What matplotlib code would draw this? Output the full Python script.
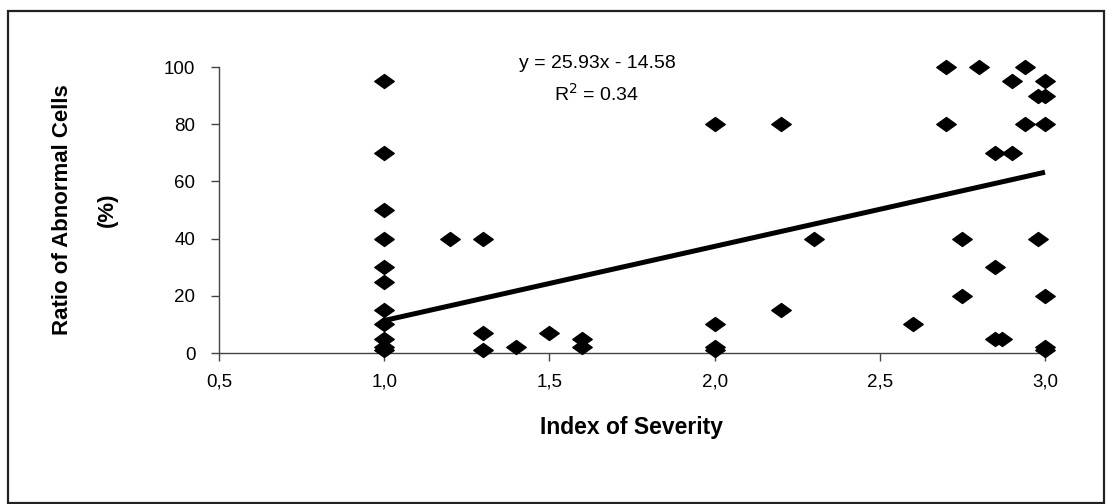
import matplotlib
matplotlib.use("Agg")
import matplotlib.pyplot as plt
from matplotlib.path import Path
from matplotlib.patches import Rectangle
import numpy as np

plt.rcParams['font.family'] = ['Liberation Sans', 'DejaVu Sans']

# Data
severity = [1.0, 1.0, 1.0, 1.0, 1.0, 1.0, 1.0, 1.0, 1.0, 1.0, 1.0,
            1.2, 1.3, 1.3, 1.3, 1.4, 1.5, 1.6, 1.6,
            2.0, 2.0, 2.0, 2.0, 2.2, 2.2, 2.3, 2.6,
            2.7, 2.7, 2.75, 2.75, 2.8, 2.85, 2.85, 2.85, 2.87,
            2.9, 2.9, 2.94, 2.94, 2.98, 2.98,
            3.0, 3.0, 3.0, 3.0, 3.0, 3.0]
abnormal = [95, 70, 50, 40, 30, 25, 15, 10, 5, 2, 1,
            40, 40, 7, 1, 2, 7, 5, 2,
            80, 10, 2, 1, 80, 15, 40, 10,
            100, 80, 40, 20, 100, 70, 30, 5, 5,
            95, 70, 100, 80, 90, 40,
            95, 90, 80, 20, 2, 1]

slope = 25.93
intercept = -14.58
r_squared = 0.34
fit_range = [1.0, 3.0]

xticks = [0.5, 1.0, 1.5, 2.0, 2.5, 3.0]
xtick_labels = ["0,5", "1,0", "1,5", "2,0", "2,5", "3,0"]
yticks = [0, 20, 40, 60, 80, 100]

W, H = 1112, 504
fig = plt.figure(figsize=(W / 100, H / 100), dpi=100)
ax = fig.add_axes([219 / W, 1 - 353 / H, (1045 - 219) / W, (353 - 67) / H])

diamond = Path([(-1, 0), (0, 0.72), (1, 0), (0, -0.72), (-1, 0)],
               [Path.MOVETO, Path.LINETO, Path.LINETO, Path.LINETO, Path.CLOSEPOLY])

ax.plot(severity, abnormal, linestyle='none', marker=diamond, markersize=14,
        color='black', clip_on=False, zorder=3)

fx = np.array(fit_range)
ax.plot(fx, slope * fx + intercept, color='black', linewidth=3.6,
        solid_capstyle='butt', clip_on=False, zorder=2)

ax.set_xlim(0.5, 3.0)
ax.set_ylim(0, 100)
ax.set_xticks(xticks)
ax.set_xticklabels(xtick_labels)
ax.set_yticks(yticks)

for s in ['top', 'right']:
    ax.spines[s].set_visible(False)
for s in ['left', 'bottom']:
    ax.spines[s].set_color('#444444')
    ax.spines[s].set_linewidth(1.0)

ax.tick_params(axis='both', direction='out', length=6, width=1, color='#444444',
               labelsize=13.5)
ax.tick_params(axis='y', pad=11)
ax.tick_params(axis='x', pad=9)

ax.set_xlabel("Index of Severity", fontsize=16.5, fontweight='bold', labelpad=18)
ax.set_ylabel("Ratio of Abnormal Cells\n(%)", fontsize=16, fontweight='bold',
              labelpad=33, linespacing=2.5)

eq_sign = '-' if intercept < 0 else '+'
ax.text(597 / W, 1 - 63 / H,
        f"y = {slope:.2f}x {eq_sign} {abs(intercept):.2f}",
        transform=fig.transFigure, ha='center', va='center', fontsize=14)
ax.text(597 / W, 1 - 94 / H, f"R$^2$ = {r_squared:.2f}",
        transform=fig.transFigure, ha='center', va='center', fontsize=14)

border = Rectangle((8 / W, 1 / H), (1104 - 8) / W, (493 - 1) / H,
                   transform=fig.transFigure, fill=False, edgecolor='#222222',
                   linewidth=1.6)
fig.patches.append(border)

fig.savefig("out.png", dpi=100)
